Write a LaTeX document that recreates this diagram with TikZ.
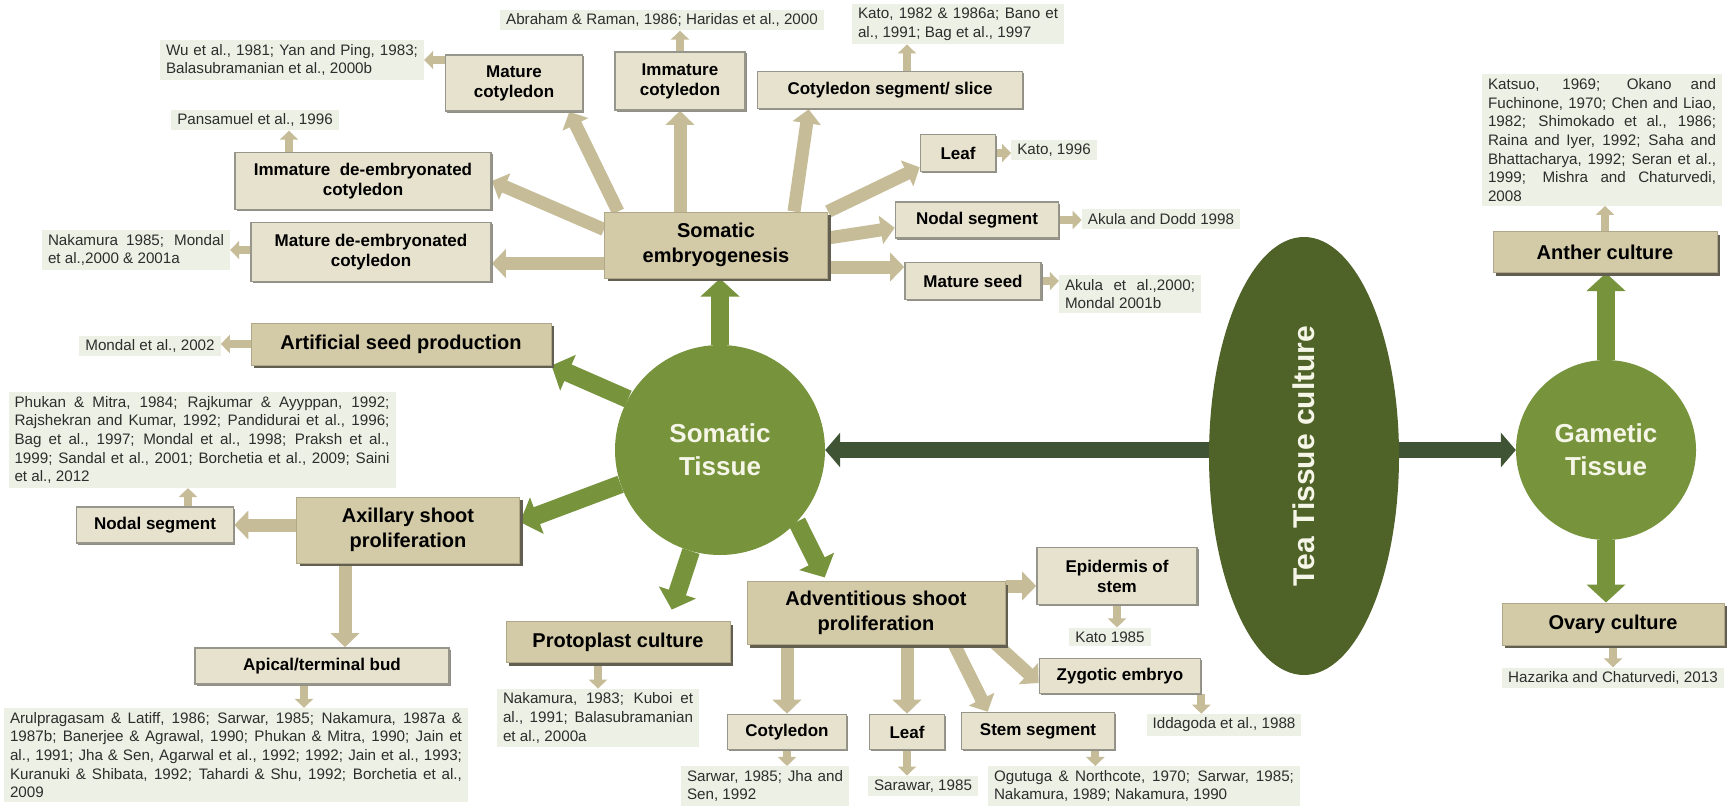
\documentclass[tikz,border=0pt]{standalone}
\usepackage{fontspec}
\setmainfont{Liberation Sans}
\usepackage{tikz}
\usetikzlibrary{arrows.meta,          % pointes de fleches
           shapes.geometric,          % ellipse
           shadows}                   % ombres des cadres
\pgfdeclarelayer{background}
\pgfsetlayers{background,main}
\setlength{\parindent}{0pt}
\definecolor{tanD}{RGB}{211,202,167}
\definecolor{tanE}{RGB}{176,168,136}
\definecolor{tanL}{RGB}{231,226,206}
\definecolor{tanA}{RGB}{198,189,152}
\definecolor{boxgrey}{RGB}{150,150,140}
\definecolor{boxshadow}{RGB}{98,94,80}
\definecolor{citebg}{RGB}{237,241,229}
\definecolor{citetext}{RGB}{45,45,45}
\definecolor{olive}{RGB}{119,147,60}
\definecolor{teagreen}{RGB}{79,98,40}
\definecolor{slategreen}{RGB}{62,84,52}
\definecolor{cream}{RGB}{246,246,232}
\tikzset{
  bigbox/.style={draw=tanE,line width=1pt,fill=tanD,align=center,inner sep=2pt,
    font=\bfseries\fontsize{20}{25}\selectfont,
    drop shadow={shadow xshift=3pt,shadow yshift=-3pt,fill=boxshadow,opacity=1}},
  subbox/.style={draw=boxgrey,line width=1.6pt,fill=tanL,align=center,inner sep=2pt,
    font=\bfseries\fontsize{17}{20}\selectfont,
    drop shadow={shadow xshift=1.5pt,shadow yshift=-1.5pt,fill=boxshadow!70,opacity=1}},
  cite/.style={fill=citebg,text=citetext,align=left,inner xsep=6pt,inner ysep=4pt,
    font=\fontsize{15.2}{18.7}\selectfont},
  citej/.style={cite,align=justify,font=\fontsize{15.2}{18.7}\selectfont\sloppy},
  tissue/.style={circle,fill=olive,text=cream,align=center,inner sep=0pt,
    font=\bfseries\fontsize{26}{33}\selectfont},
  tanarrow/.style={draw=tanA,line width=13pt,-{Triangle[width=28pt,length=14pt]}},
  citearrow/.style={draw=tanA,line width=8pt,-{Triangle[width=18pt,length=9pt]}},
  greenarrow/.style={draw=olive,line width=18pt,-{Triangle[width=38pt,length=18pt]}},
  darkarrow/.style={draw=slategreen,line width=16pt,-{Triangle[width=34pt,length=15pt]}}
}
\begin{document}
\begin{tikzpicture}[x=1pt,y=-1pt]
\useasboundingbox(0,0)rectangle(1728,808);
% centre
\node[tissue,minimum size=210pt](somt)at(720,450){Somatic\\Tissue};
\node[tissue,minimum size=180pt](gamt)at(1606,450){Gametic\\Tissue};
\node[ellipse,fill=teagreen,minimum width=190pt,minimum height=438pt,text=cream,font=\bfseries\fontsize{30}{36}\selectfont](tea)at(1304,456){\rotatebox{90}{Tea Tissue culture}};
% cadres principaux
\node[bigbox,minimum width=223pt,minimum height=66pt](someg)at(716,245){Somatic\\embryogenesis};
\node[bigbox,minimum width=300pt,minimum height=42pt](artif)at(401,344){Artificial seed production};
\node[bigbox,minimum width=223pt,minimum height=66pt](axil)at(408,530){Axillary shoot\\proliferation};
\node[bigbox,minimum width=224pt,minimum height=41pt](proto)at(618,642){Protoplast culture};
\node[bigbox,minimum width=258pt,minimum height=63pt](advent)at(876,613){Adventitious shoot\\proliferation};
\node[bigbox,minimum width=224pt,minimum height=41pt](anther)at(1605,252){Anther culture};
\node[bigbox,minimum width=222pt,minimum height=42pt](ovary)at(1613,624){Ovary culture};
% explants
\node[subbox,minimum width=137pt,minimum height=56pt](matcot)at(514,83){Mature\\cotyledon};
\node[subbox,minimum width=130pt,minimum height=58pt](immcot)at(680,81){Immature\\cotyledon};
\node[subbox,minimum width=265pt,minimum height=37pt](cotseg)at(890,90){Cotyledon segment/ slice};
\node[subbox,minimum width=75pt,minimum height=37pt](leafse)at(958,153){Leaf};
\node[subbox,minimum width=163pt,minimum height=36pt](nodalse)at(977,220){Nodal segment};
\node[subbox,minimum width=136pt,minimum height=37pt](matseed)at(973,281){Mature seed};
\node[subbox,minimum width=256pt,minimum height=57pt](immde)at(363,181){Immature\ \ de-embryonated\\cotyledon};
\node[subbox,minimum width=240pt,minimum height=59pt](matde)at(371,252){Mature de-embryonated\\cotyledon};
\node[subbox,minimum width=157pt,minimum height=36pt](nodalax)at(155,525){Nodal segment};
\node[subbox,minimum width=254pt,minimum height=36pt](apical)at(322,666){Apical/terminal bud};
\node[subbox,minimum width=160pt,minimum height=57pt](epid)at(1117,576){Epidermis of\\stem};
\node[subbox,minimum width=161pt,minimum height=35pt](zyg)at(1120,676){Zygotic embryo};
\node[subbox,minimum width=119pt,minimum height=35pt](cotadv)at(787,732){Cotyledon};
\node[subbox,minimum width=75pt,minimum height=35pt](leafadv)at(907,732){Leaf};
\node[subbox,minimum width=153pt,minimum height=37pt](stemseg)at(1038,731){Stem segment};
% references
\node[cite](abr)at(662,20){Abraham \& Raman, 1986; Haridas et al., 2000};
\node[citej,text width=200pt](kato82)at(958,24){Kato, 1982 \& 1986a; Bano et\linebreak al., 1991; Bag et al., 1997};
\node[citej,text width=252pt](wu)at(292,60){Wu et al., 1981; Yan and Ping, 1983;\linebreak Balasubramanian et al., 2000b};
\node[cite](pans)at(255,120){Pansamuel et al., 1996};
\node[citej,text width=176pt](naka85)at(136,250){Nakamura 1985; Mondal\linebreak et al.,2000 \& 2001a};
\node[cite](kato96)at(1054,150){Kato, 1996};
\node[cite](akdodd)at(1161,219){Akula and Dodd 1998};
\node[citej,text width=130pt](akula)at(1130,294){Akula et al.,2000;\linebreak Mondal 2001b};
\node[cite](mond02)at(150,346){Mondal et al., 2002};
\node[citej,text width=375pt](phukan)at(202,440){Phukan \& Mitra, 1984; Rajkumar \& Ayyppan, 1992;\linebreak Rajshekran and Kumar, 1992; Pandidurai et al., 1996;\linebreak Bag et al., 1997; Mondal et al., 1998; Praksh et al.,\linebreak 1999; Sandal et al., 2001; Borchetia et al., 2009; Saini\linebreak et al., 2012};
\node[citej,text width=452pt](arul)at(236,755){Arulpragasam \& Latiff, 1986; Sarwar, 1985; Nakamura, 1987a \&\linebreak 1987b; Banerjee \& Agrawal, 1990; Phukan \& Mitra, 1990; Jain et\linebreak al., 1991; Jha \& Sen, Agarwal et al., 1992; 1992; Jain et al., 1993;\linebreak Kuranuki \& Shibata, 1992; Tahardi \& Shu, 1992; Borchetia et al.,\linebreak 2009};
\node[citej,text width=190pt](naka83)at(598,718){Nakamura, 1983; Kuboi et\linebreak al., 1991; Balasubramanian\linebreak et al., 2000a};
\node[cite](kato85)at(1110,637){Kato 1985};
\node[cite](idda)at(1224,725){Iddagoda et al., 1988};
\node[citej,text width=156pt](sarwar)at(765,786){Sarwar, 1985; Jha and\linebreak Sen, 1992};
\node[cite](sarawar)at(923,786){Sarawar, 1985};
\node[citej,text width=300pt](ogu)at(1144,786){Ogutuga \& Northcote, 1970; Sarwar, 1985;\linebreak Nakamura, 1989; Nakamura, 1990};
\node[citej,text width=228pt](katsuo)at(1602,140){Katsuo, 1969; Okano and\linebreak Fuchinone, 1970; Chen and Liao,\linebreak 1982; Shimokado et al., 1986;\linebreak Raina and Iyer, 1992; Saha and\linebreak Bhattacharya, 1992; Seran et al.,\linebreak 1999; Mishra and Chaturvedi,\linebreak 2008};
\node[cite](haz)at(1613,678){Hazarika and Chaturvedi, 2013};
\begin{pgfonlayer}{background}
\fill[white](0,0)rectangle(1728,808);
\draw[darkarrow](tea.center|-somt.east)--(somt.east);
\draw[darkarrow](tea.center|-gamt.west)--(gamt.west);
\draw[greenarrow](somt.north)--(somt.north|-someg.south);
\draw[greenarrow](somt.151)--(artif.south east);
\draw[greenarrow](somt.199)--([yshift=8pt]axil.east);
\draw[greenarrow,shorten >=12pt](somt.254)--([xshift=50pt]proto.north);
\draw[greenarrow,shorten >=4pt](somt.317)--([xshift=80pt]advent.north west);
\draw[greenarrow](gamt.north)--(gamt.north|-anther.south);
\draw[greenarrow](gamt.south)--(gamt.south|-ovary.north);
\draw[tanarrow]([xshift=14pt]someg.north west)--([xshift=-14pt]matcot.south east);
\draw[tanarrow](someg.north-|immcot.south)--(immcot.south);
\draw[tanarrow]([xshift=-34pt]someg.north east)--([xshift=52pt]cotseg.south west);
\draw[tanarrow](someg.north east)--([yshift=5pt]leafse.south west);
\draw[tanarrow]([yshift=7pt]someg.east)--([yshift=11pt]nodalse.south west);
\draw[tanarrow]([yshift=-22pt]someg.east)--([yshift=-22pt]someg.east-|matseed.west);
\draw[tanarrow]([yshift=-18pt]someg.north west)--(immde.east);
\draw[tanarrow]([yshift=15pt]someg.south west)--([yshift=15pt]someg.south west-|matde.east);
\draw[tanarrow](axil.west|-nodalax.east)--(nodalax.east);
\draw[tanarrow]([xshift=-63pt]axil.south)--([xshift=-63pt]axil.south|-apical.north);
\draw[tanarrow](cotadv.north|-advent.south)--(cotadv.north);
\draw[tanarrow](leafadv.north|-advent.south)--(leafadv.north);
\draw[tanarrow]([xshift=-51pt]advent.south east)--([xshift=27pt]stemseg.north west);
\draw[tanarrow]([yshift=-5pt]advent.north east)--([yshift=-5pt]advent.north east-|epid.west);
\draw[tanarrow]([xshift=-15pt,yshift=6pt]advent.south east)--([yshift=-7pt]zyg.west);
\draw[citearrow](immcot.north)--(immcot.north|-abr.south);
\draw[citearrow]([xshift=17pt]cotseg.north)--([xshift=17pt]cotseg.north|-kato82.south);
\draw[citearrow](matcot.west|-wu.east)--(wu.east);
\draw[citearrow]([xshift=34pt]pans.south|-immde.north)--([xshift=34pt]pans.south);
\draw[citearrow](matde.west|-naka85.east)--(naka85.east);
\draw[citearrow](leafse.east)--(leafse.east-|kato96.west);
\draw[citearrow](nodalse.east)--(nodalse.east-|akdodd.west);
\draw[citearrow](matseed.east)--(matseed.east-|akula.west);
\draw[citearrow](artif.west)--(artif.west-|mond02.east);
\draw[citearrow]([xshift=33pt]nodalax.north)--([xshift=33pt]nodalax.north|-phukan.south);
\draw[citearrow]([xshift=-18pt]apical.south)--([xshift=-18pt]apical.south|-arul.north);
\draw[citearrow](naka83.north|-proto.south)--(naka83.north);
\draw[citearrow](epid.south)--(epid.south|-kato85.north);
\draw[citearrow](zyg.south east)--(zyg.south east|-idda.north);
\draw[citearrow](cotadv.south)--(cotadv.south|-sarwar.north);
\draw[citearrow](leafadv.south)--(leafadv.south|-sarawar.north);
\draw[citearrow]([xshift=-20pt]stemseg.south east)--([xshift=-20pt]stemseg.south east|-ogu.north);
\draw[citearrow](anther.north)--(anther.north|-katsuo.south);
\draw[citearrow](ovary.south)--(ovary.south|-haz.north);
\end{pgfonlayer}
\end{tikzpicture}
\end{document}
